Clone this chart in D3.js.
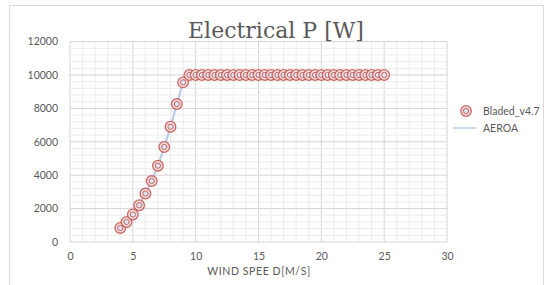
<!DOCTYPE html>
<html><head><meta charset="utf-8">
<script src="https://cdn.jsdelivr.net/npm/d3@7"></script>
<style>body{margin:0;background:#fff}</style>
</head><body><svg id="c" width="546" height="285"></svg>
<script>
const windSpeed = [4,4.5,5,5.5,6,6.5,7,7.5,8,8.5,9,9.5,10,10.5,11,11.5,12,12.5,13,13.5,14,14.5,15,15.5,16,16.5,17,17.5,18,18.5,19,19.5,20,20.5,21,21.5,22,22.5,23,23.5,24,24.5,25];
const bladedPower = [840,1200,1650,2200,2900,3650,4570,5690,6900,8260,9560,10000,10000,10000,10000,10000,10000,10000,10000,10000,10000,10000,10000,10000,10000,10000,10000,10000,10000,10000,10000,10000,10000,10000,10000,10000,10000,10000,10000,10000,10000,10000,10000];
const aeroaPower = [840,1200,1650,2200,2900,3650,4570,5690,6900,8260,9560,10000,10000,10000,10000,10000,10000,10000,10000,10000,10000,10000,10000,10000,10000,10000,10000,10000,10000,10000,10000,10000,10000,10000,10000,10000,10000,10000,10000,10000,10000,10000,10000];
const xTicks = [0,5,10,15,20,25,30];
const yTicks = [0,2000,4000,6000,8000,10000,12000];
const seriesNames = ["Bladed_v4.7","AEROA"];

const svg = d3.select("#c");
svg.append("rect").attr("x",9.5).attr("y",5.5).attr("width",534).attr("height",290)
  .attr("fill","#fff").attr("stroke","#d9d9d9");

const L=70,R=447,T=41.6,B=242;
const x = d3.scaleLinear().domain([0,30]).range([L,R]);
const y = d3.scaleLinear().domain([0,12000]).range([B,T]);

const g = svg.append("g");
g.selectAll(".vm").data(d3.range(0,31,1)).join("line")
  .attr("x1",d=>x(d)).attr("x2",d=>x(d)).attr("y1",T).attr("y2",B)
  .attr("stroke",d=>d%5===0?"#d4d4d4":"#ececec").attr("stroke-width",1);
g.selectAll(".hm").data(d3.range(0,12001,400)).join("line")
  .attr("y1",d=>y(d)).attr("y2",d=>y(d)).attr("x1",L).attr("x2",R)
  .attr("stroke",d=>d%2000===0?"#d4d4d4":"#ececec").attr("stroke-width",1);

const xa = svg.append("g").attr("transform",`translate(0,${B})`)
  .call(d3.axisBottom(x).tickValues(xTicks).tickSize(0).tickPadding(11));
const ya = svg.append("g").attr("transform",`translate(${L},0)`)
  .call(d3.axisLeft(y).tickValues(yTicks).tickSize(0).tickPadding(12).tickFormat(d3.format("d")));
[xa,ya].forEach(a=>{a.select(".domain").remove();
  a.selectAll("text").attr("fill","#595959").style("font-family","Lato, 'Open Sans', sans-serif").style("font-size","10.5px");});

svg.append("path").datum(windSpeed.map((w,i)=>[w,aeroaPower[i]]))
  .attr("fill","none").attr("stroke","#b9cde5").attr("stroke-width",2.2)
  .attr("d",d3.line().x(d=>x(d[0])).y(d=>y(d[1])));

function marker(sel){
  sel.append("circle").attr("r",5.3).attr("fill","#f2dcdb").attr("stroke","#c0504d").attr("stroke-width",1.3).attr("stroke-opacity",0.85);
  sel.append("circle").attr("r",2.6).attr("fill","#dce6f2").attr("stroke","#c0504d").attr("stroke-width",1).attr("stroke-opacity",0.85);
}
svg.selectAll(".pt").data(windSpeed.map((w,i)=>[w,bladedPower[i]])).join("g")
  .attr("transform",d=>`translate(${x(d[0])},${y(d[1])})`).call(marker);

svg.append("text").attr("x",276).attr("y",38).attr("text-anchor","middle")
  .attr("fill","#595959").style("font-family","'DejaVu Serif', serif").style("font-size","22px")
  .text("Electrical P [W]");

svg.append("text").attr("x",259).attr("y",275).attr("text-anchor","middle")
  .attr("fill","#595959").style("font-family","Lato, 'Open Sans', sans-serif").style("font-size","10.5px")
  .style("letter-spacing","0.6px").text("WIND SPEE D[M/S]");

const lg = svg.append("g");
lg.append("g").attr("transform","translate(466,111)").call(marker);
lg.append("text").attr("x",483).attr("y",114.5).text(seriesNames[0]);
lg.append("line").attr("x1",453).attr("x2",476).attr("y1",128).attr("y2",128).attr("stroke","#b9cde5").attr("stroke-width",1.5);
lg.append("text").attr("x",483).attr("y",131.5).text(seriesNames[1]);
lg.selectAll("text").attr("fill","#595959").style("font-family","Lato, 'Open Sans', sans-serif").style("font-size","10.5px");
</script></body></html>
